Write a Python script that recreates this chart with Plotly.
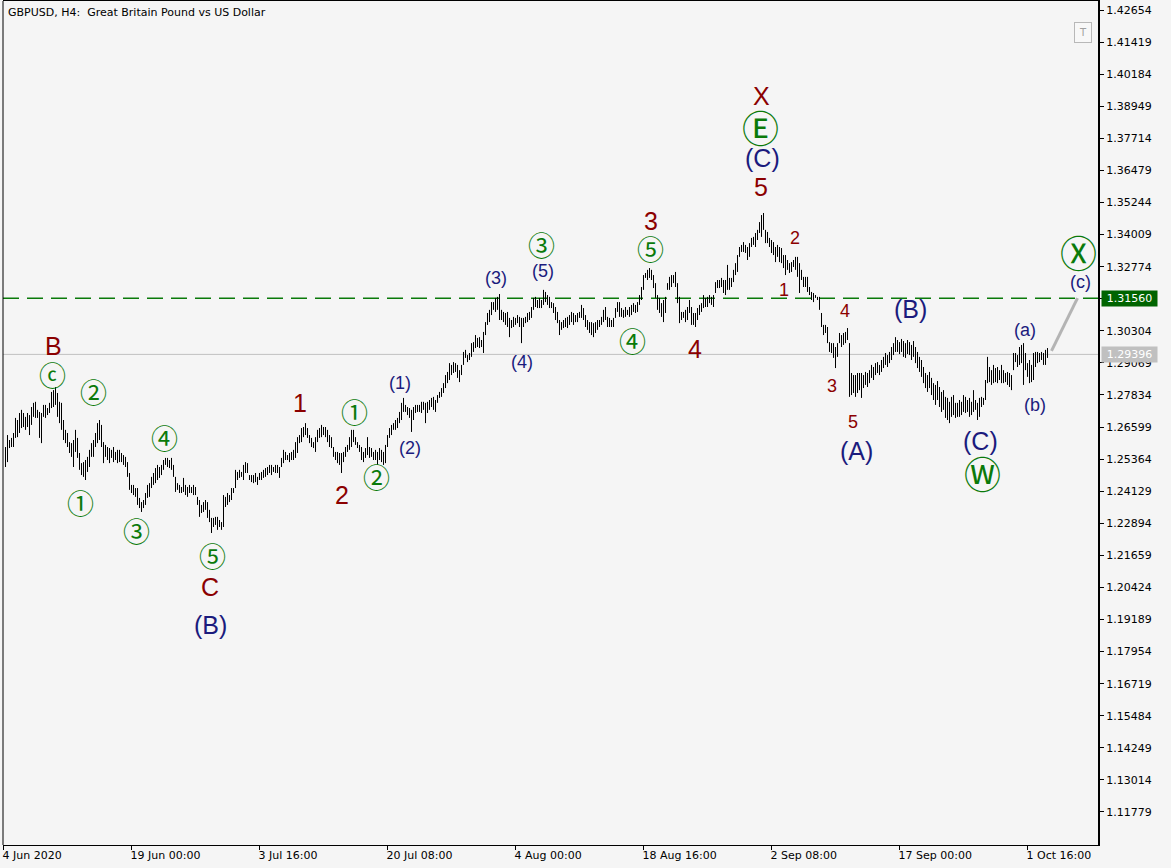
import plotly.graph_objects as go

# ---- bar data (GBPUSD H4), prices in pips (1/10000) ----
HIGH_PIPS = [
    12583,12629,12610,12618,12637,12695,12687,12714,12726,12714,
    12699,12714,12706,12737,12753,12757,12726,12718,12714,12745,
    12745,12733,12753,12795,12802,12814,12791,12757,12753,12687,
    12649,12637,12602,12598,12610,12649,12618,12560,12521,12525,
    12533,12545,12572,12598,12610,12637,12675,12687,12668,12602,
    12591,12583,12579,12572,12583,12564,12572,12572,12560,12552,
    12545,12525,12483,12437,12437,12425,12425,12387,12371,12379,
    12406,12437,12444,12468,12483,12502,12514,12506,12514,12533,
    12541,12541,12533,12541,12514,12468,12444,12437,12429,12464,
    12437,12429,12437,12429,12437,12429,12391,12379,12360,12371,
    12379,12371,12341,12310,12310,12314,12314,12302,12294,12398,
    12391,12406,12398,12425,12425,12495,12487,12495,12487,12514,
    12525,12521,12475,12475,12475,12483,12468,12483,12487,12495,
    12502,12506,12514,12514,12506,12514,12514,12506,12541,12572,
    12564,12552,12560,12564,12572,12602,12621,12629,12656,12660,
    12675,12656,12629,12618,12602,12621,12649,12656,12668,12660,
    12660,12649,12629,12621,12583,12564,12564,12560,12560,12564,
    12583,12591,12621,12649,12649,12621,12602,12591,12583,12564,
    12579,12621,12583,12579,12564,12572,12564,12579,12572,12564,
    12591,12629,12656,12668,12675,12687,12695,12718,12753,12772,
    12745,12737,12733,12726,12737,12745,12745,12745,12757,12757,
    12753,12757,12764,12772,12776,12764,12783,12795,12810,12829,
    12860,12872,12906,12899,12910,12906,12899,12879,12899,12949,
    12957,12937,12945,12983,12987,13014,13003,13006,12995,13026,
    13064,13099,13111,13141,13141,13157,13161,13172,13111,13103,
    13099,13103,13080,13072,13084,13080,13091,13084,13080,13080,
    13084,13099,13103,13122,13157,13161,13149,13157,13149,13188,
    13180,13168,13161,13141,13137,13122,13103,13072,13064,13072,
    13080,13084,13091,13103,13099,13091,13099,13103,13130,13118,
    13091,13072,13064,13064,13060,13064,13072,13072,13084,13111,
    13122,13084,13080,13072,13080,13118,13141,13141,13118,13111,
    13122,13111,13122,13130,13137,13130,13141,13168,13199,13245,
    13253,13265,13272,13265,13245,13214,13168,13157,13137,13149,
    13161,13214,13238,13245,13245,13257,13214,13161,13103,13103,
    13111,13122,13149,13122,13099,13099,13118,13130,13137,13168,
    13157,13161,13168,13161,13168,13218,13226,13226,13234,13226,
    13226,13284,13234,13234,13265,13291,13322,13353,13361,13372,
    13361,13353,13368,13388,13392,13407,13419,13449,13476,13484,
    13419,13411,13388,13380,13372,13353,13361,13353,13349,13322,
    13322,13303,13291,13295,13303,13315,13315,13291,13265,13238,
    13238,13238,13199,13180,13176,13168,13161,13161,13099,13053,
    13053,13045,12987,12983,12983,12968,12983,13022,13014,13022,
    13026,13041,12983,12868,12860,12860,12868,12868,12868,12860,
    12872,12868,12879,12899,12891,12906,12910,12899,12918,12930,
    12945,12937,12949,12968,12983,13006,12995,12987,12999,12991,
    12983,12995,12987,12976,12991,12968,12949,12930,12918,12891,
    12868,12860,12872,12849,12829,12822,12837,12814,12795,12802,
    12776,12772,12757,12776,12783,12753,12753,12764,12757,12783,
    12776,12764,12772,12757,12802,12764,12753,12772,12776,12772,
    12841,12930,12891,12879,12899,12887,12891,12879,12899,12879,
    12868,12872,12868,12860,12945,12945,12937,12968,12976,12983,
    12945,12906,12918,12899,12945,12949,12949,12945,12949,12945,
    12957,12964,
]
LOW_PIPS = [
    12506,12525,12579,12583,12583,12618,12621,12637,12656,12660,
    12649,12660,12629,12668,12699,12695,12695,12618,12598,12699,
    12695,12706,12714,12733,12737,12745,12699,12675,12649,12610,
    12598,12583,12560,12545,12506,12564,12541,12495,12475,12468,
    12456,12487,12506,12545,12545,12583,12598,12610,12583,12521,
    12545,12533,12521,12541,12525,12533,12521,12525,12525,12514,
    12506,12468,12418,12406,12398,12391,12360,12348,12333,12348,
    12360,12387,12391,12425,12437,12444,12456,12464,12475,12495,
    12514,12506,12502,12495,12468,12410,12418,12406,12406,12410,
    12398,12391,12406,12406,12398,12398,12360,12314,12329,12333,
    12341,12310,12294,12252,12275,12283,12264,12275,12264,12275,
    12352,12360,12371,12379,12406,12425,12456,12464,12468,12456,
    12483,12483,12456,12448,12444,12448,12437,12456,12456,12464,
    12468,12475,12483,12475,12487,12483,12483,12464,12506,12521,
    12533,12533,12525,12533,12533,12541,12560,12598,12602,12621,
    12629,12618,12598,12583,12579,12564,12602,12618,12621,12629,
    12621,12602,12583,12579,12545,12533,12521,12514,12483,12525,
    12545,12564,12572,12583,12602,12591,12579,12564,12533,12525,
    12541,12552,12541,12545,12533,12533,12514,12533,12525,12514,
    12521,12583,12618,12629,12649,12649,12656,12675,12687,12718,
    12718,12706,12695,12641,12687,12714,12718,12718,12714,12726,
    12675,12714,12726,12737,12726,12718,12753,12772,12776,12791,
    12810,12829,12841,12860,12868,12872,12849,12833,12860,12899,
    12926,12910,12918,12930,12949,12964,12968,12964,12968,12945,
    13014,13053,13064,13091,13111,13103,13111,13072,13072,13064,
    13053,13045,13006,13041,13045,13053,13060,13045,12983,13045,
    13060,13064,13072,13080,13111,13122,13118,13118,13118,13130,
    13141,13130,13118,13118,13099,13072,13060,13014,13034,13041,
    13045,13041,13053,13064,13053,13064,13064,13080,13080,13072,
    13045,13034,13022,13014,13006,13022,13034,13045,13053,13064,
    13072,13045,13045,13045,13045,13080,13103,13084,13084,13080,
    13084,13091,13084,13091,13103,13099,13103,13130,13149,13188,
    13234,13226,13234,13226,13195,13157,13111,13099,13084,13064,
    13099,13188,13188,13199,13214,13199,13137,13060,13072,13080,
    13064,13072,13099,13053,13053,13045,13072,13091,13103,13118,
    13122,13122,13137,13130,13122,13176,13195,13195,13199,13176,
    13168,13188,13188,13199,13218,13245,13257,13315,13334,13334,
    13330,13303,13315,13353,13361,13353,13380,13407,13392,13419,
    13368,13368,13353,13330,13322,13295,13315,13295,13291,13272,
    13245,13265,13253,13257,13276,13265,13238,13176,13226,13199,
    13199,13180,13168,13149,13141,13157,13149,13111,13045,13014,
    13022,12983,12949,12945,12926,12887,12930,12983,12968,12976,
    12983,12995,12776,12783,12791,12776,12791,12802,12772,12810,
    12822,12814,12829,12849,12841,12860,12868,12860,12872,12887,
    12899,12891,12906,12918,12937,12949,12949,12941,12949,12930,
    12926,12941,12937,12918,12930,12906,12887,12872,12853,12829,
    12810,12795,12810,12783,12764,12745,12764,12737,12718,12726,
    12695,12687,12675,12699,12706,12695,12699,12699,12706,12718,
    12714,12718,12699,12706,12718,12726,12687,12699,12737,12745,
    12764,12829,12833,12822,12829,12833,12829,12841,12829,12829,
    12833,12822,12814,12802,12879,12910,12891,12899,12906,12822,
    12879,12853,12829,12833,12841,12891,12906,12910,12918,12899,
    12899,12926,
]

# ---- axis labels ----
x_tick_bars = [0, 64, 128, 192, 256, 320, 384, 448, 512]
x_tick_labels = ["4 Jun 2020", "19 Jun 00:00", "3 Jul 16:00", "20 Jul 08:00",
                 "4 Aug 00:00", "18 Aug 16:00", "2 Sep 08:00", "17 Sep 00:00",
                 "1 Oct 16:00"]
y_tick_values = [1.11779, 1.13014, 1.14249, 1.15484, 1.16719, 1.17954, 1.19189,
                 1.20424, 1.21659, 1.22894, 1.24129, 1.25364, 1.26599, 1.27834,
                 1.29069, 1.30304, 1.31539, 1.32774, 1.34009, 1.35244, 1.36479,
                 1.37714, 1.38949, 1.40184, 1.41419, 1.42654]

target_price = 1.31560
bid_price = 1.29396
projection_bars = [524, 537]
projection_prices = [1.2953, 1.3156]

# ---- Elliott wave labels: text, bar position, price, style ----
wave_labels = [
    ("B", 24.75, 1.2972, "red_big"),
    ("C", 103.25, 1.2044, "red_big"),
    ("(B)", 103.25, 1.1898, "navy_big"),
    ("1", 148.25, 1.2752, "red_big"),
    ("2", 169.25, 1.2398, "red_big"),
    ("3", 323.75, 1.3453, "red_big"),
    ("4", 345.75, 1.2960, "red_big"),
    ("5", 378.75, 1.3584, "red_big"),
    ("X", 378.75, 1.3934, "red_big"),
    ("(C)", 379.25, 1.3697, "navy_big"),
    ("(A)", 426.25, 1.2568, "navy_big"),
    ("(B)", 453.25, 1.3114, "navy_big"),
    ("(C)", 488.25, 1.2606, "navy_big"),
    ("(1)", 198.25, 1.2829, "navy_mid"),
    ("(2)", 203.25, 1.2579, "navy_mid"),
    ("(3)", 246.25, 1.3234, "navy_mid"),
    ("(4)", 259.25, 1.2910, "navy_mid"),
    ("(5)", 269.75, 1.3261, "navy_mid"),
    ("(a)", 510.75, 1.30335, "navy_mid"),
    ("(b)", 515.75, 1.2745, "navy_mid"),
    ("(c)", 538.25, 1.3219, "navy_mid"),
    ("1", 390.25, 1.3187, "red_mid"),
    ("2", 395.75, 1.3388, "red_mid"),
    ("3", 414.25, 1.2818, "red_mid"),
    ("4", 420.75, 1.3107, "red_mid"),
    ("5", 424.75, 1.2679, "red_mid"),
    ("ⓒ", 24.25, 1.2864, "circ_small"),
    ("②", 44.75, 1.2795, "circ_small"),
    ("①", 38.25, 1.2371, "circ_small"),
    ("③", 66.25, 1.22635, "circ_small"),
    ("④", 80.25, 1.2618, "circ_small"),
    ("⑤", 104.25, 1.2167, "circ_small"),
    ("①", 175.25, 1.2718, "circ_small"),
    ("②", 186.25, 1.2468, "circ_small"),
    ("③", 268.75, 1.3361, "circ_small"),
    ("⑤", 323.25, 1.3349, "circ_small"),
    ("④", 314.25, 1.2995, "circ_small"),
    ("Ⓔ", 378.25, 1.3815, "circ_big"),
    ("Ⓦ", 489.25, 1.2483, "circ_big"),
    ("Ⓧ", 537.25, 1.3333, "circ_big"),
]

STYLES = {
    "red_big": dict(family="Liberation Sans, Arial", size=25, color="#8b0000"),
    "navy_big": dict(family="Liberation Sans, Arial", size=25, color="#1b1b7d"),
    "navy_mid": dict(family="Liberation Sans, Arial", size=18, color="#1b1b7d"),
    "red_mid": dict(family="Liberation Sans, Arial", size=18, color="#8b0000"),
    "circ_small": dict(family="Noto Sans CJK JP", size=27, color="#0a7a0a"),
    "circ_big": dict(family="Noto Sans CJK JP", size=37, color="#0a7a0a"),
}

BG = "#f5f5f5"
TICKFONT = dict(family="DejaVu Sans", size=11, color="black")

high = [p / 10000 for p in HIGH_PIPS]
low = [p / 10000 for p in LOW_PIPS]
n = min(len(high), len(low))
bx, by = [], []
for i in range(n):
    bx += [i + 1, i + 1, None]
    by += [low[i], high[i], None]

fig = go.Figure()
fig.add_trace(go.Scatter(x=bx, y=by, mode="lines", line=dict(color="black", width=1),
                         hoverinfo="skip", showlegend=False))
fig.add_trace(go.Scatter(x=projection_bars, y=projection_prices, mode="lines",
                         line=dict(color="#b4b4b4", width=3), hoverinfo="skip",
                         showlegend=False))

W, H = 1171, 868
ML, MR, MT, MB = 3, 73, 1, 23
plot_h = H - MT - MB
y_top = 1.4304 - MT / 2597.4
y_bot = 1.4304 - (H - MB) / 2597.4

fig.update_layout(
    template="none", width=W, height=H, autosize=False,
    margin=dict(l=ML, r=MR, t=MT, b=MB, pad=0),
    paper_bgcolor=BG, plot_bgcolor=BG, showlegend=False, hovermode=False,
    xaxis=dict(range=[-0.25, 547.25], showgrid=False, zeroline=False,
               showline=True, linecolor="black", linewidth=1, mirror=True,
               ticks="outside", ticklen=4, tickcolor="black", tickwidth=1,
               tickvals=x_tick_bars, ticktext=x_tick_labels,
               ticklabelposition="outside right", ticklabelshift=-2,
               tickfont=TICKFONT, automargin=False, fixedrange=True),
    yaxis=dict(range=[y_bot, y_top], side="right", showgrid=False, zeroline=False,
               showline=True, linecolor="black", linewidth=2,
               ticks="outside", ticklen=4, tickcolor="black", tickwidth=1,
               tickvals=y_tick_values, ticktext=[f"{v:.5f}" for v in y_tick_values],
               tickfont=TICKFONT, automargin=False, fixedrange=True),
)

# frame left edge, reference lines
fig.add_shape(type="line", xref="paper", yref="paper", x0=0, x1=0, y0=0, y1=1,
              line=dict(color="black", width=1))
fig.add_shape(type="line", xref="paper", yref="y", x0=0, x1=1, y0=target_price,
              y1=target_price, line=dict(color="#0a7a0a", width=1.5, dash="16px,8px"),
              layer="below")
fig.add_shape(type="line", xref="paper", yref="y", x0=0, x1=1, y0=bid_price,
              y1=bid_price, line=dict(color="#c0c0c0", width=1), layer="below")

annotations = []
for text, bar, price, style in wave_labels:
    annotations.append(dict(text=text, x=bar, y=price, xref="x", yref="y",
                            showarrow=False, font=STYLES[style],
                            xanchor="center", yanchor="middle"))
annotations.append(dict(text="GBPUSD, H4:&nbsp; Great Britain Pound vs US Dollar",
                        x=0, y=1, xref="paper", yref="paper", xanchor="left",
                        yanchor="top", xshift=3, yshift=-3, showarrow=False,
                        font=TICKFONT))
annotations.append(dict(text=f"{target_price:.5f}", x=1, y=target_price, xref="paper",
                        yref="y", xanchor="left", yanchor="middle", xshift=3,
                        showarrow=False, bgcolor="#006400", borderpad=1, width=53,
                        font=dict(family="DejaVu Sans", size=11, color="white")))
annotations.append(dict(text=f"{bid_price:.5f}", x=1, y=bid_price, xref="paper",
                        yref="y", xanchor="left", yanchor="middle", xshift=3,
                        showarrow=False, bgcolor="#c0c0c0", borderpad=1, width=53,
                        font=dict(family="DejaVu Sans", size=11, color="white")))
annotations.append(dict(text="T", x=(1083 - ML) / (W - ML - MR), y=1 - (33 - MT) / plot_h,
                        xref="paper", yref="paper", xanchor="center", yanchor="middle",
                        showarrow=False, bgcolor="#f8f8f8", bordercolor="#b8b8b8",
                        borderwidth=1, borderpad=4,
                        font=dict(family="DejaVu Sans", size=10, color="#a0a0a0")))
fig.update_layout(annotations=annotations)

fig.write_html("out.html", config={"displayModeBar": False, "staticPlot": True},
               post_script="document.body.style.margin='0';document.body.style.background='%s';" % BG)
